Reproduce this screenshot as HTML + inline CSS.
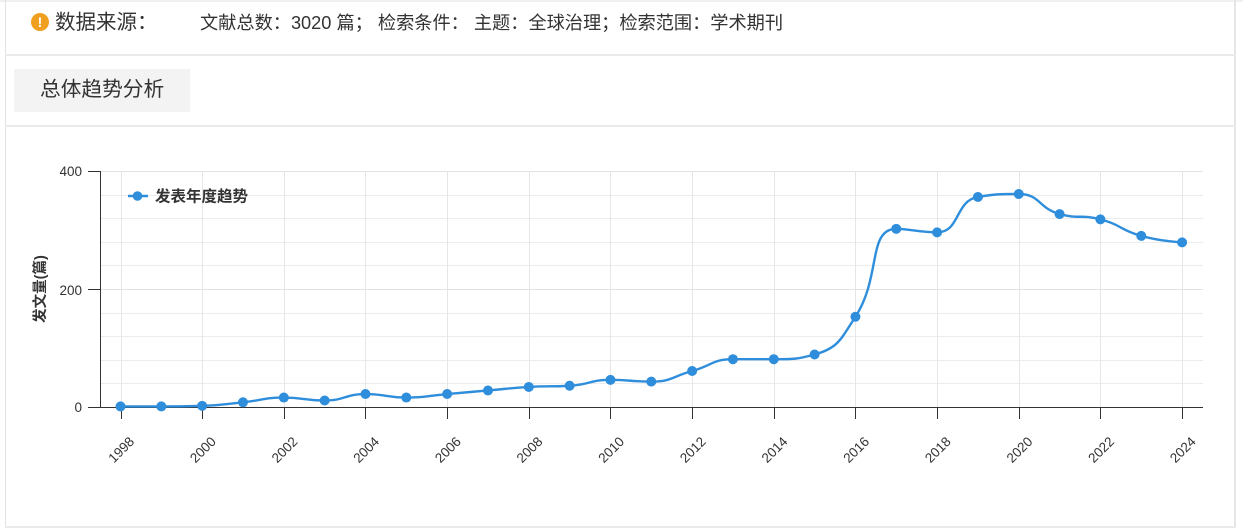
<!DOCTYPE html>
<html><head><meta charset="utf-8">
<style>
html,body{margin:0;padding:0;background:#fff;}
body{width:1243px;height:532px;position:relative;overflow:hidden;font-family:"Liberation Sans","Noto Sans CJK SC",sans-serif;color:#333;}
.topband{position:absolute;left:0;top:0;width:1243px;height:2px;background:#f0f0f0;}
.lb{position:absolute;left:5px;top:0;width:1px;height:528px;background:#e3e3e3;}
.rb{position:absolute;left:1234px;top:0;width:2px;height:528px;background:#e6e6e6;}
.hl{position:absolute;left:5px;width:1231px;height:2px;background:#ebebeb;}
.icon{position:absolute;left:31px;top:13px;width:18px;height:18px;border-radius:50%;background:#f0a020;color:#fff;font:bold 14px "Liberation Sans",sans-serif;text-align:center;line-height:18px;}
.lab{position:absolute;left:55px;top:9px;font-size:20.5px;line-height:28px;white-space:nowrap;}
.info{position:absolute;left:200px;top:10px;font-size:18.2px;line-height:26px;white-space:nowrap;}
.tab{position:absolute;left:14px;top:69px;width:176px;height:43px;background:#f3f3f3;}
.tab span{position:absolute;left:26px;top:7px;font-size:20.7px;line-height:28px;white-space:nowrap;}
svg{position:absolute;left:0;top:0;}
</style></head><body>
<div class="topband"></div>
<div class="lb"></div>
<div class="rb"></div>
<div class="hl" style="top:54px"></div>
<div class="hl" style="top:125px"></div>
<div class="hl" style="top:526px"></div>
<div class="icon">!</div>
<div class="lab">数据来源：</div>
<div class="info">文献总数：3020 篇； 检索条件： 主题：全球治理；检索范围：学术期刊</div>
<div class="tab"><span>总体趋势分析</span></div>

<svg id="chart" width="1243" height="532" viewBox="0 0 1243 532" xmlns="http://www.w3.org/2000/svg">
  <g id="grid" stroke-width="1" shape-rendering="crispEdges"></g>
  <g font-family="Liberation Sans, sans-serif" font-size="13.5" fill="#333" text-anchor="end">
    <text x="82" y="176">400</text>
    <text x="82" y="295">200</text>
    <text x="82" y="412">0</text>
  </g>
  <text transform="translate(45,289) rotate(-90)" text-anchor="middle" font-family="Liberation Sans, Noto Sans CJK SC, sans-serif" font-size="14.5" font-weight="bold" fill="#333">发文量(篇)</text>
  <g id="axes" stroke="#333" stroke-width="1.2" shape-rendering="crispEdges"></g>
  <g id="xlabels" font-family="Liberation Sans, sans-serif" font-size="13.5" fill="#333" text-anchor="middle"></g>
  <line x1="128" y1="196" x2="148" y2="196" stroke="#2f8edc" stroke-width="2.5"/>
  <circle cx="137.5" cy="196" r="4.8" fill="#2f8edc"/>
  <text x="155" y="201.5" font-family="Liberation Sans, Noto Sans CJK SC, sans-serif" font-size="15.5" font-weight="bold" fill="#333">发表年度趋势</text>
  <path id="series" fill="none" stroke="#2f8edc" stroke-width="2.4" stroke-linejoin="round"
    d="M120.5,406.4 L161.3,406.4 L202.2,405.8 L243,402.3 L283.8,397.6 L324.7,400.5 L365.5,394 L406.3,397.6 L447.1,394 L488,390.5 L528.8,386.9 L569.6,385.8 L610.5,379.9 L651.3,381.6 L692.1,371 L733,359.2 L773.8,359.2 L814.6,354.5 L855.4,316.7 L896.3,228.8 L937.1,232.4 L977.9,197 L1018.8,194 L1059.6,214.1 L1100.4,219.4 L1141.3,235.9 L1182.1,242.4"/>
  <g id="dots" fill="#2f8edc"></g>
</svg>
<script>
(function(){
  var NS="http://www.w3.org/2000/svg";
  var vals=[1,1,2,8,16,11,22,16,22,28,34,36,46,43,61,81,81,89,153,302,296,356,361,327,318,290,279];
  function X(i){return 120.5+i*40.83;}
  function Y(v){return 407-v*0.59;}
  var grid=document.getElementById('grid');
  function ln(g,x1,y1,x2,y2,c){var l=document.createElementNS(NS,'line');l.setAttribute('x1',x1);l.setAttribute('y1',y1);l.setAttribute('x2',x2);l.setAttribute('y2',y2);l.setAttribute('stroke',c);g.appendChild(l);}
  for(var k=1;k<=10;k++){var y=Math.round(407-23.6*k)+0.5;ln(grid,100,y,1203,y,(k%5==0)?'#e2e2e2':'#ececec');}
  for(var i=0;i<=26;i+=2){var x=Math.round(X(i))+0.5;ln(grid,x,171,x,407,'#e6e6e6');}
  var axes=document.getElementById('axes');
  ln(axes,100.5,171,100.5,407.5,'#333');
  ln(axes,100,407.5,1203,407.5,'#333');
  ln(axes,88,171.5,100,171.5,'#333');
  ln(axes,88,289.5,100,289.5,'#333');
  ln(axes,88,407.5,100,407.5,'#333');
  var xl=document.getElementById('xlabels');
  for(var i=0;i<=26;i+=2){var x=Math.round(X(i))+0.5;ln(axes,x,407,x,419,'#333');
    var t=document.createElementNS(NS,'text');t.setAttribute('transform','translate('+(X(i)+4)+',453) rotate(-45)');t.textContent=String(1998+i);xl.appendChild(t);}
  var pts=[];for(var i=0;i<vals.length;i++){pts.push([X(i),Y(vals[i])]);}
  var smooth=0.5,d='',cpx0,cpy0,cpx1,cpy1,prevX,prevY,mn=Math.min,mx=Math.max;
  for(var idx=0;idx<pts.length;idx++){
    var x=pts[idx][0],y=pts[idx][1];
    if(idx===0){d+='M'+x+','+y;cpx0=x;cpy0=y;}
    else{
      var nextCpx0,nextCpy0;
      if(idx===pts.length-1){cpx1=x;cpy1=y;}
      else{
        var nextX=pts[idx+1][0],nextY=pts[idx+1][1];
        var vx=nextX-prevX,vy=nextY-prevY;
        var dx0=x-prevX,dx1=nextX-x,dy0=y-prevY,dy1=nextY-y;
        var lp=Math.sqrt(dx0*dx0+dy0*dy0),lnx=Math.sqrt(dx1*dx1+dy1*dy1);
        var r=lnx/(lnx+lp);
        nextCpx0=x+vx*smooth*r;nextCpy0=y+vy*smooth*r;
        nextCpx0=mn(nextCpx0,mx(nextX,x));nextCpy0=mn(nextCpy0,mx(nextY,y));
        nextCpx0=mx(nextCpx0,mn(nextX,x));nextCpy0=mx(nextCpy0,mn(nextY,y));
        vx=nextCpx0-x;vy=nextCpy0-y;
        cpx1=x-vx*lp/lnx;cpy1=y-vy*lp/lnx;
        cpx1=mn(cpx1,mx(prevX,x));cpy1=mn(cpy1,mx(prevY,y));
        cpx1=mx(cpx1,mn(prevX,x));cpy1=mx(cpy1,mn(prevY,y));
        vx=x-cpx1;vy=y-cpy1;
        nextCpx0=x+vx*lnx/lp;nextCpy0=y+vy*lnx/lp;
      }
      d+=' C'+cpx0.toFixed(2)+','+cpy0.toFixed(2)+' '+cpx1.toFixed(2)+','+cpy1.toFixed(2)+' '+x.toFixed(2)+','+y.toFixed(2);
      cpx0=nextCpx0;cpy0=nextCpy0;
    }
    prevX=x;prevY=y;
  }
  document.getElementById('series').setAttribute('d',d);
  var dots=document.getElementById('dots');
  for(var i=0;i<pts.length;i++){var c=document.createElementNS(NS,'circle');c.setAttribute('cx',pts[i][0]);c.setAttribute('cy',pts[i][1]);c.setAttribute('r','5');dots.appendChild(c);}
})();
</script>
</body></html>
